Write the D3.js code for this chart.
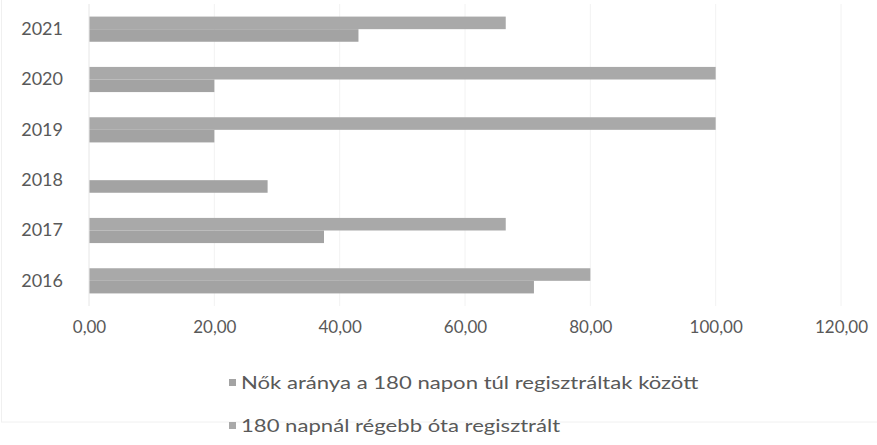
<!DOCTYPE html>
<html>
<head>
<meta charset="utf-8">
<script src="https://cdn.jsdelivr.net/npm/d3@7"></script>
<style>
  html, body { margin: 0; padding: 0; background: #fff; }
  svg { display: block; }
  text { font-family: Lato, "Liberation Sans", sans-serif; fill: #595959; }
</style>
</head>
<body>
<svg id="chart" width="877" height="445"></svg>
<script>
// ---- data ----
const years = ["2021", "2020", "2019", "2018", "2017", "2016"];
const seriesNames = ["Nők aránya a 180 napon túl regisztráltak között", "180 napnál régebb óta regisztrált"];
// upper bar in each group
const upperValues = [66.5, 100, 100, 0, 66.5, 80];
// lower bar in each group
const lowerValues = [43, 20, 20, 28.5, 37.5, 71];
const xTicks = [0, 20, 40, 60, 80, 100, 120];

const svg = d3.select("#chart");
const W = 877, H = 445;

// faint outer frame
svg.append("rect").attr("x", 1.5).attr("y", -2).attr("width", W - 1).attr("height", 424)
  .attr("fill", "none").attr("stroke", "#f0f0f0").attr("stroke-width", 1);

const x = d3.scaleLinear().domain([0, 120]).range([89, 841]);
const y = d3.scaleBand().domain(years).range([4, 306]).paddingInner(0.5).paddingOuter(0.25);
const inner = d3.scaleBand().domain(["upper", "lower"]).range([0, y.bandwidth()]);

// gridlines
svg.append("g").selectAll("line").data(xTicks).join("line")
  .attr("x1", d => x(d)).attr("x2", d => x(d))
  .attr("y1", 4).attr("y2", 306)
  .attr("stroke", "#f2f2f2").attr("stroke-width", 1);

// bars
const rows = years.map((yr, i) => ({ yr, upper: upperValues[i], lower: lowerValues[i] }));
const g = svg.append("g");
rows.forEach(r => {
  [["upper", r.upper, "#a9a9a9"], ["lower", r.lower, "#a3a3a3"]].forEach(([k, v, c]) => {
    if (v > 0) {
      g.append("rect")
        .attr("x", x(0))
        .attr("y", y(r.yr) + inner(k))
        .attr("width", x(v) - x(0))
        .attr("height", inner.bandwidth())
        .attr("fill", c);
    }
  });
});

// axis line (faint)
svg.append("line").attr("x1", x(0)).attr("x2", x(0)).attr("y1", 4).attr("y2", 306)
  .attr("stroke", "#ececec");

// y labels
const yAxis = d3.axisLeft(y).tickSize(0).tickPadding(0);
const yg = svg.append("g").attr("transform", `translate(${x(0) - 26},0)`).call(yAxis);
yg.select(".domain").remove();
yg.selectAll("text").attr("font-size", 18).attr("fill", "#595959")
  .style("font-family", "Lato, sans-serif");

// x labels
const fmt = d => d3.format(".2f")(d).replace(".", ",");
const xAxis = d3.axisBottom(x).tickValues(xTicks).tickFormat(fmt).tickSize(0).tickPadding(0);
const xg = svg.append("g").attr("transform", `translate(0,321)`).call(xAxis);
xg.select(".domain").remove();
xg.selectAll("text").attr("font-size", 17).attr("fill", "#595959")
  .style("font-family", "Lato, sans-serif");

// legend
const legend = svg.append("g");
const legendY = [383, 426];
seriesNames.forEach((name, i) => {
  legend.append("rect").attr("x", 229).attr("y", legendY[i] - 4).attr("width", 7).attr("height", 7)
    .attr("fill", i === 0 ? "#a3a3a3" : "#a9a9a9");
  const t = legend.append("text").attr("x", 241).attr("y", legendY[i]).attr("dy", "0.35em")
    .attr("font-size", 17).text(name);
  const len = t.node().getComputedTextLength();
  t.attr("textLength", len * 1.3).attr("lengthAdjust", "spacingAndGlyphs");
});
</script>
</body>
</html>
